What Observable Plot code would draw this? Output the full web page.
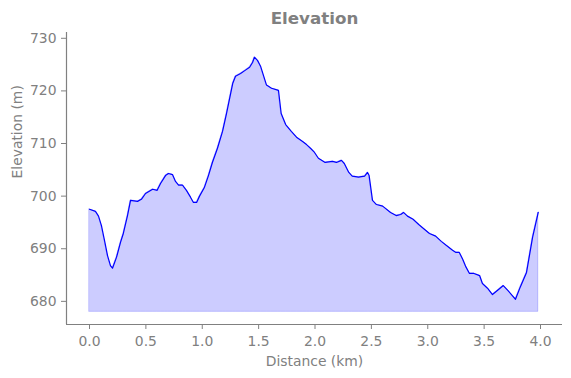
<!DOCTYPE html>
<html>
<head>
<meta charset="utf-8">
<script src="https://cdn.jsdelivr.net/npm/d3@7"></script>
<script src="https://cdn.jsdelivr.net/npm/@observablehq/plot@0.6"></script>
<style>
  html, body { margin: 0; padding: 0; background: #fff; }
  svg { display: block; }
</style>
</head>
<body>
<div id="chart"></div>
<script>
const distance = [0, 0.053, 0.08, 0.106, 0.133, 0.16, 0.186, 0.204, 0.24, 0.275, 0.30, 0.337, 0.364, 0.426, 0.46, 0.497, 0.56, 0.60, 0.63, 0.674, 0.70, 0.736, 0.763, 0.79, 0.825, 0.86, 0.896, 0.922, 0.95, 0.976, 1.02, 1.055, 1.09, 1.135, 1.18, 1.215, 1.27, 1.295, 1.34, 1.38, 1.42, 1.446, 1.463, 1.49, 1.517, 1.57, 1.614, 1.676, 1.70, 1.74, 1.79, 1.836, 1.89, 1.925, 1.96, 1.996, 2.03, 2.09, 2.155, 2.19, 2.235, 2.26, 2.30, 2.33, 2.386, 2.44, 2.466, 2.48, 2.51, 2.545, 2.60, 2.67, 2.72, 2.76, 2.785, 2.82, 2.87, 2.92, 2.97, 3.015, 3.07, 3.12, 3.166, 3.22, 3.25, 3.28, 3.31, 3.335, 3.37, 3.41, 3.46, 3.485, 3.53, 3.574, 3.62, 3.67, 3.71, 3.75, 3.778, 3.82, 3.876, 3.93, 3.98];
const elevation = [697.5, 697.1, 696.2, 694.4, 691.6, 688.7, 686.8, 686.3, 688.4, 691.2, 692.9, 696.3, 699.2, 699.0, 699.4, 700.5, 701.3, 701.1, 702.4, 703.9, 704.3, 704.1, 702.8, 702.1, 702.1, 701.1, 699.8, 698.8, 698.8, 700.0, 701.7, 703.9, 706.4, 709.1, 712.3, 715.7, 721.4, 722.8, 723.3, 723.9, 724.5, 725.4, 726.4, 725.8, 724.7, 721.1, 720.5, 720.1, 715.7, 713.6, 712.3, 711.2, 710.4, 709.8, 709.1, 708.3, 707.2, 706.4, 706.6, 706.4, 706.8, 706.2, 704.5, 703.8, 703.6, 703.8, 704.5, 703.9, 699.2, 698.4, 698.1, 696.9, 696.3, 696.5, 696.9, 696.2, 695.6, 694.6, 693.7, 692.9, 692.4, 691.4, 690.6, 689.7, 689.3, 689.3, 688.0, 686.7, 685.3, 685.3, 684.9, 683.4, 682.5, 681.3, 682.1, 683.0, 682.1, 681.1, 680.4, 682.7, 685.5, 692.2, 696.9];
const baseline = 678;
const xTicks = [0, 0.5, 1.0, 1.5, 2.0, 2.5, 3.0, 3.5, 4.0];
const yTicks = [680, 690, 700, 710, 720, 730];
const xDomain = [-0.204, 4.195];
const yDomain = [675.6, 731.1];
const titleText = "Elevation";
const xLabel = "Distance (km)";
const yLabel = "Elevation (m)";

const data = distance.map((d, i) => ({distance: d, elevation: elevation[i], base: baseline}));
const gray = "#808080";

const chart = Plot.plot({
  width: 571,
  height: 378,
  marginLeft: 66,
  marginRight: 9,
  marginTop: 32,
  marginBottom: 54,
  style: {fontFamily: "DejaVu Sans", fontSize: "13.9px", color: gray, background: "white"},
  x: {domain: xDomain},
  y: {domain: yDomain},
  marks: [
    Plot.areaY(data, {x: "distance", y1: "base", y2: "elevation", fill: "blue", fillOpacity: 0.2, stroke: "blue", strokeOpacity: 0.2, strokeWidth: 1}),
    Plot.lineY(data, {x: "distance", y: "elevation", stroke: "blue", strokeWidth: 1.2}),
    Plot.ruleY([yDomain[0]], {stroke: gray, strokeWidth: 1.2}),
    Plot.ruleX([xDomain[0]], {stroke: gray, strokeWidth: 1.2}),
    Plot.axisX({ticks: xTicks, tickFormat: d3.format(".1f"), tickSize: 5, tickPadding: 7, stroke: gray, fill: gray, label: null, fontSize: 13.9}),
    Plot.axisY({ticks: yTicks, tickSize: 5, tickPadding: 5, stroke: gray, fill: gray, label: null, fontSize: 13.9}),
    Plot.text([titleText], {frameAnchor: "top", lineAnchor: "middle", dy: -14, fontWeight: "bold", fontSize: 16.7, fill: gray}),
    Plot.text([xLabel], {frameAnchor: "bottom", lineAnchor: "middle", dy: 37, fontSize: 13.9, fill: gray}),
    Plot.text([yLabel], {frameAnchor: "left", lineAnchor: "middle", dx: -49, rotate: -90, fontSize: 13.9, fill: gray})
  ]
});
document.getElementById("chart").appendChild(chart);
</script>
</body>
</html>
